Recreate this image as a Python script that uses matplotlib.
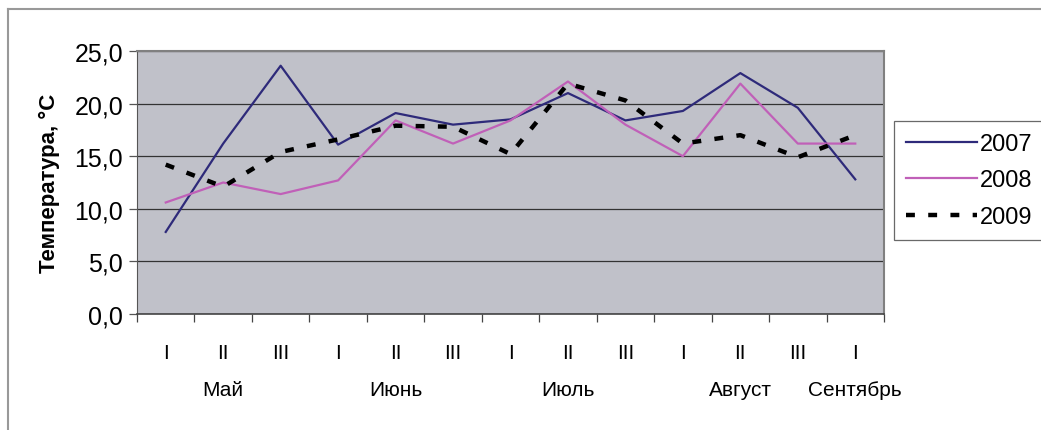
import matplotlib
matplotlib.use("Agg")
import matplotlib.pyplot as plt
from matplotlib.lines import Line2D
import matplotlib.transforms as mtransforms

plt.rcParams['font.family'] = ['Liberation Sans', 'DejaVu Sans']

# ============================
# Data
# ============================
decades = ["I", "II", "III", "I", "II", "III", "I", "II", "III", "I", "II", "III", "I"]
months = ["Май", "Июнь", "Июль", "Август", "Сентябрь"]
month_pos = [1, 4, 7, 10, 12]

t2007 = [7.8, 16.2, 23.6, 16.1, 19.1, 18.0, 18.5, 21.0, 18.4, 19.3, 22.9, 19.6, 12.8]
t2008 = [10.6, 12.5, 11.4, 12.7, 18.4, 16.2, 18.4, 22.1, 18.0, 15.0, 21.9, 16.2, 16.2]
t2009 = [14.2, 12.1, 15.4, 16.6, 17.9, 17.8, 15.2, 21.9, 20.3, 16.2, 17.0, 14.9, 17.0]
yticks = [0, 5, 10, 15, 20, 25]

# ============================
# Plot
# ============================
fig = plt.figure(figsize=(10.41, 4.31), dpi=100)
ax = fig.add_axes([137 / 1041, 116 / 431, 747 / 1041, 263 / 431])
ax.set_facecolor("#c0c1c9")

x = list(range(len(decades)))
ax.plot(x, t2007, color="#2e2a7a", lw=1.6, label="2007")
ax.plot(x, t2008, color="#c060b8", lw=1.6, label="2008")
ax.plot(x, t2009, color="black", lw=3.2, dashes=(2, 3), label="2009")

ax.set_xlim(-0.5, len(decades) - 0.5)
ax.set_ylim(0, 25)
ax.set_yticks(yticks)
ax.set_yticklabels([f"{v:.1f}".replace(".", ",") for v in yticks], fontsize=18)
ax.yaxis.grid(True, color="#333333", lw=0.9)
ax.set_axisbelow(True)
ax.tick_params(axis="y", length=6, width=0.9, color="#555555", pad=4)

# ticks between categories, labels at centers
ax.set_xticks([i - 0.5 for i in range(len(decades) + 1)])
ax.set_xticklabels([])
ax.set_xticks(x, minor=True)
ax.set_xticklabels(decades, minor=True, fontsize=15)
ax.tick_params(axis="x", which="major", length=6, width=0.9, color="#444444")
ax.tick_params(axis="x", which="minor", length=0, pad=21)

trans = mtransforms.blended_transform_factory(ax.transData, fig.transFigure)
for m, p in zip(months, month_pos):
    ax.text(p, 1 - 390 / 431, m, transform=trans, ha="center", va="center", fontsize=15)

for side in ["top", "right"]:
    ax.spines[side].set_color("#808080")
    ax.spines[side].set_linewidth(1.5)
ax.spines["left"].set_color("#555555")
ax.spines["bottom"].set_color("#444444")
ax.spines["bottom"].set_linewidth(1.2)

ax.set_ylabel("Температура, °С", fontsize=16, fontweight="bold", labelpad=10)

leg = fig.legend(loc="upper left", bbox_to_anchor=(894 / 1041, 1 - 122 / 431),
                 fontsize=17, frameon=True, fancybox=False, edgecolor="#444444",
                 handlelength=3.0, handletextpad=0.15, labelspacing=0.62,
                 borderpad=0.5, borderaxespad=0)
leg.get_frame().set_linewidth(0.9)

# outer frame (top and left)
fig.add_artist(Line2D([8 / 1041, 8 / 1041], [0, 1 - 10 / 431], transform=fig.transFigure,
                      color="#999999", lw=1.5))
fig.add_artist(Line2D([8 / 1041, 1], [1 - 10 / 431, 1 - 10 / 431], transform=fig.transFigure,
                      color="#999999", lw=1.5))

fig.savefig("out.png", dpi=100)
